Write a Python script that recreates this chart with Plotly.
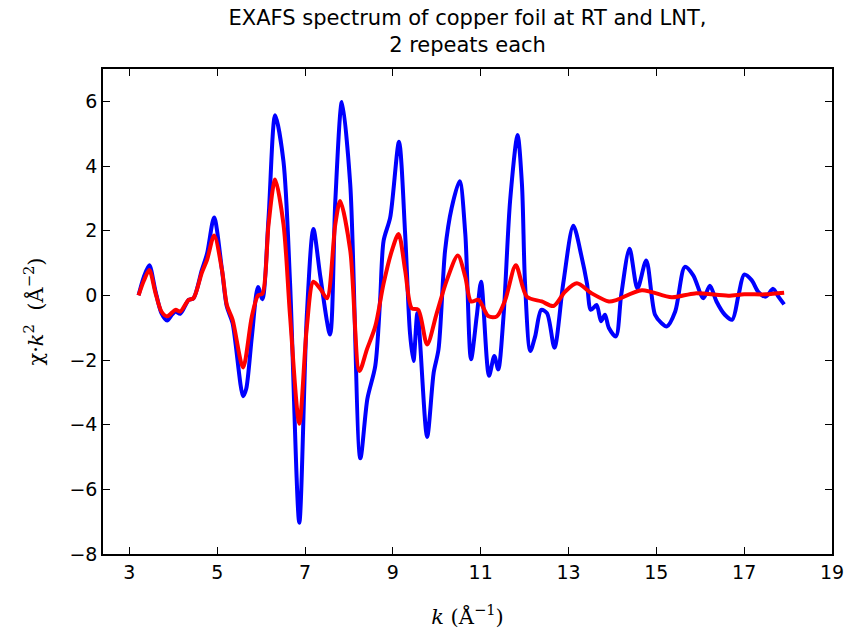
import plotly.graph_objects as go

# Room-temperature (blue) spectrum
k_rt = [3.21, 3.33, 3.455, 3.59, 3.73, 3.86, 3.97, 4.05, 4.16, 4.35, 4.46, 4.65, 4.77, 4.93,
        5.11, 5.22, 5.35, 5.59, 5.66, 5.79, 5.93, 6.03, 6.17, 6.32, 6.51, 6.66, 6.87, 7.04,
        7.19, 7.35, 7.57, 7.69, 7.84, 8.03, 8.26, 8.42, 8.6, 8.71, 8.79, 8.94, 9.14, 9.28,
        9.39, 9.47, 9.56, 9.78, 9.93, 10.04, 10.19, 10.34, 10.52, 10.65, 10.78, 10.91, 11.01,
        11.19, 11.31, 11.4, 11.52, 11.67, 11.84, 11.94, 12.01, 12.13, 12.24, 12.38, 12.51,
        12.68, 12.88, 13.11, 13.3, 13.42, 13.51, 13.64, 13.74, 13.83, 13.92, 14.08, 14.2,
        14.39, 14.57, 14.77, 14.97, 15.12, 15.24, 15.43, 15.65, 15.84, 16.07, 16.22, 16.37,
        16.56, 16.73, 16.87, 17.0, 17.17, 17.32, 17.49, 17.66, 17.78, 17.91]
chi_rt = [0.0, 0.57, 0.93, 0.16, -0.55, -0.78, -0.6, -0.5, -0.57, -0.14, -0.09, 0.78, 1.29, 2.41,
          0.78, -0.35, -0.86, -3.12, -2.9, -1.27, 0.26, -0.12, 2.41, 5.57, 4.14, 0.37, -7.03, -0.65,
          2.05, 0.57, -1.21, 2.92, 5.98, 3.43, -5.04, -3.2, -2.18, -0.14, 1.69, 2.41, 4.75, 1.9,
          -1.16, -2.03, -0.55, -4.38, -2.39, -1.67, 1.39, 2.71, 3.53, 1.9, -1.98, -0.65, 0.42,
          -2.49, -1.88, -2.29, -0.65, 2.92, 4.96, 3.43, 0.37, -1.72, -1.27, -0.45, -0.55,
          -1.62, 0.37, 2.15, 1.18, 0.37, -0.45, -0.3, -0.8, -0.6, -1.01, -1.27, 0.01,
          1.44, 0.21, 1.08, -0.6, -0.86, -0.96, -0.5, 0.88, 0.62, -0.09, 0.3, -0.19,
          -0.6, -0.75, 0.0, 0.64, 0.47, 0.11, -0.04, 0.2, -0.04, -0.28]

# Liquid-nitrogen-temperature (red) spectrum
k_lnt = [3.21, 3.33, 3.455, 3.59, 3.73, 3.86, 4.05, 4.16, 4.35, 4.46, 4.65, 4.77, 4.93, 5.11,
         5.22, 5.35, 5.59, 5.79, 5.93, 6.03, 6.17, 6.32, 6.51, 6.66, 6.87, 7.04, 7.19, 7.35,
         7.5, 7.69, 7.8, 8.03, 8.24, 8.41, 8.6, 8.79, 8.98, 9.13, 9.28, 9.43, 9.58, 9.78,
         10.0, 10.23, 10.48, 10.65, 10.78, 10.95, 11.18, 11.37, 11.56, 11.8, 12.05, 12.39,
         12.66, 12.92, 13.19, 13.53, 13.92, 14.1, 14.67, 15.35, 15.88, 16.64, 17.0, 17.49, 17.91]
chi_lnt = [0.0, 0.45, 0.78, 0.1, -0.5, -0.65, -0.45, -0.5, -0.14, -0.09, 0.7, 1.1, 1.85, 0.78,
           -0.3, -0.75, -2.23, -0.65, 0.0, 0.05, 2.2, 3.58, 2.2, -0.65, -3.97, -1.0, 0.42, 0.2,
           -0.09, 2.2, 2.92, 1.39, -2.34, -1.67, -0.96, 0.37, 1.39, 1.9, 0.78, -0.4, -0.45, -1.52,
           -0.55, 0.47, 1.23, 0.57, -0.19, -0.14, -0.65, -0.65, -0.14, 0.93, -0.04, -0.19,
           -0.33, 0.11, 0.37, 0.06, -0.19, -0.14, 0.16, -0.06, 0.06, -0.01, 0.03, 0.03, 0.08]

x_ticks = [3, 5, 7, 9, 11, 13, 15, 17, 19]
y_ticks = [-8, -6, -4, -2, 0, 2, 4, 6]

fig = go.Figure()
fig.add_trace(go.Scatter(x=k_rt, y=chi_rt, mode="lines", name="RT",
                         line=dict(color="#0000ff", width=4, shape="spline", smoothing=0.8)))
fig.add_trace(go.Scatter(x=k_lnt, y=chi_lnt, mode="lines", name="LNT",
                         line=dict(color="#ff0000", width=4, shape="spline", smoothing=0.8)))

axis_common = dict(showgrid=False, zeroline=False, showline=True, linecolor="black", linewidth=1.5,
                   mirror="allticks", ticks="inside", ticklen=7, tickwidth=1, tickcolor="black",
                   tickfont=dict(family="DejaVu Sans", size=19, color="black"))

fig.update_xaxes(range=[2.4, 19], tickvals=x_ticks, ticktext=[str(t) for t in x_ticks],
                 title=dict(text="<i>k</i> (Å<sup>−1</sup>)",
                            font=dict(family="DejaVu Serif", size=21, color="black"), standoff=28),
                 **axis_common)
fig.update_yaxes(range=[-8, 7], tickvals=y_ticks, ticktext=[str(t).replace("-", "−") for t in y_ticks],
                 title=dict(text="χ·<i>k</i><sup>2</sup>  (Å<sup>−2</sup>)",
                            font=dict(family="DejaVu Serif", size=21, color="black"), standoff=20),
                 **axis_common)

fig.update_layout(
    width=858, height=637,
    margin=dict(l=103, r=26, t=69, b=80),
    paper_bgcolor="white", plot_bgcolor="white",
    showlegend=False,
    title=dict(text="EXAFS spectrum of copper foil at RT and LNT,<br>2 repeats each",
               font=dict(family="DejaVu Sans", size=21, color="black"),
               x=0.5, xref="paper", xanchor="center",
               y=0.961, yref="container", yanchor="top"),
)

fig.write_html("out.html")
